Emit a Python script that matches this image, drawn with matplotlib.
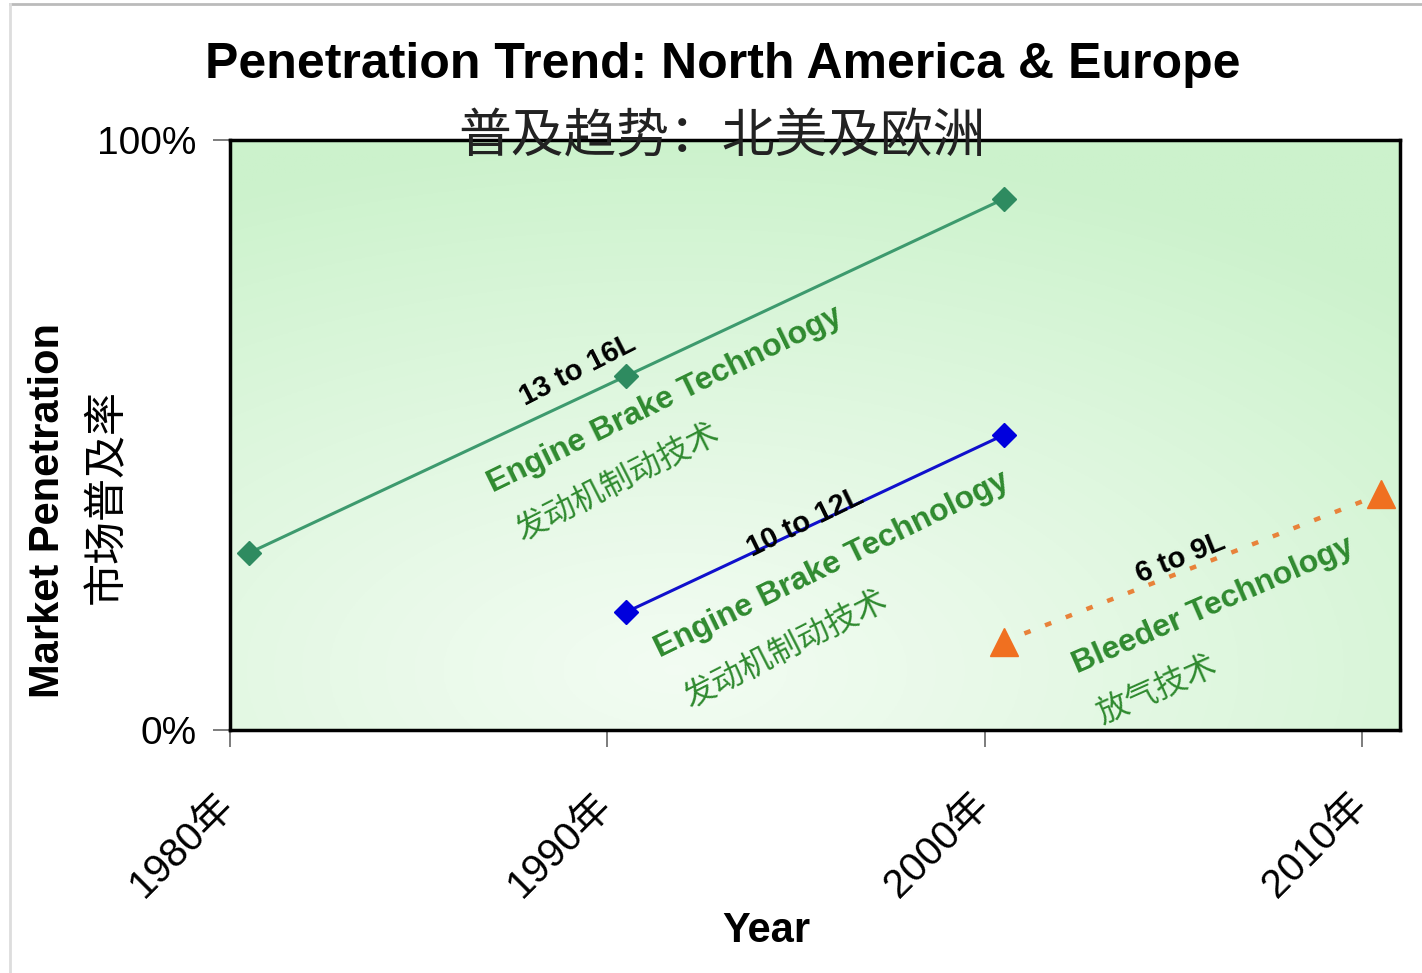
import matplotlib
matplotlib.use("Agg")
import matplotlib.pyplot as plt
import matplotlib.transforms as mtransforms
import numpy as np

# penetration series (year, share in %)
heavy_years = [1980.5, 1990.5, 2000.5]
heavy_share = [30, 60, 90]
medium_years = [1990.5, 2000.5]
medium_share = [20, 50]
light_years = [2000.5, 2010.5]
light_share = [15, 40]

tick_years = [1980, 1990, 2000, 2010]
tick_labels = ["1980年", "1990年", "2000年", "2010年"]

LAT = ["Liberation Sans", "Noto Sans CJK SC"]
CJK = ["Noto Sans CJK SC", "Liberation Sans"]
TXT_GREEN = "#2f8a2f"

fig = plt.figure(figsize=(14.22, 9.73), dpi=100)
ax = fig.add_axes([0.1617, 0.2497, 0.8228, 0.6064])
ax.set_xlim(1980, 2011.0)
ax.set_ylim(0, 100)

# soft green background, whiter towards lower middle
gx, gy = np.meshgrid(np.linspace(0, 1, 400), np.linspace(0, 1, 300))
r = np.sqrt(((gx - 0.38) / 1.0) ** 2 + ((gy - 0.1) / 1.0) ** 2)
t = 0.25 + 0.75 * np.clip(r / 0.9, 0, 1) ** 1.1
white = np.array([1.0, 1.0, 1.0])
green = np.array([0.80, 0.95, 0.80])
img = white * (1 - t[..., None]) + green * t[..., None]
ax.imshow(img, extent=[1980, 2011.0, 0, 100], origin="lower", aspect="auto", zorder=0)

ax.plot(heavy_years, heavy_share, color="#3d9a6e", lw=2.2, marker="D", ms=12,
        mfc="#2e8b60", mec="#2e8b60", zorder=3)
ax.plot(medium_years, medium_share, color="#1010cc", lw=2.2, marker="D", ms=12,
        mfc="#0000dd", mec="#0000dd", zorder=3)
ax.plot(light_years, light_share, color="#e8823a", lw=3.2, ls=(0, (1.5, 3.5)),
        zorder=3)
ax.plot(light_years, light_share, ls="none", marker="^", ms=20,
        mfc="#f07020", mec="#f07020", zorder=4)

# labels along the lines
ax.text(1989.22, 61.0, "13 to 16L", rotation=27, fontsize=21, fontweight="bold",
        family=LAT, ha="center", va="center", zorder=5)
ax.text(1991.53, 55.9, "Engine Brake Technology", rotation=26, fontsize=23,
        fontweight="bold", color=TXT_GREEN, family=LAT, ha="center", va="center", zorder=5)
ax.text(1990.26, 42.0, "发动机制动技术", rotation=27, fontsize=23,
        color=TXT_GREEN, family=CJK, ha="center", va="center", zorder=5)

ax.text(1995.24, 35.3, "10 to 12L", rotation=26, fontsize=21, fontweight="bold",
        family=LAT, ha="center", va="center", zorder=5)
ax.text(1995.96, 28.0, "Engine Brake Technology", rotation=26, fontsize=23,
        fontweight="bold", color=TXT_GREEN, family=LAT, ha="center", va="center", zorder=5)
ax.text(1994.71, 13.6, "发动机制动技术", rotation=27, fontsize=23,
        color=TXT_GREEN, family=CJK, ha="center", va="center", zorder=5)

ax.text(2005.18, 29.2, "6 to 9L", rotation=22, fontsize=21, fontweight="bold",
        family=LAT, ha="center", va="center", zorder=5)
ax.text(2006.05, 21.0, "Bleeder Technology", rotation=23.5, fontsize=23,
        fontweight="bold", color=TXT_GREEN, family=LAT, ha="center", va="center", zorder=5)
ax.text(2004.57, 6.8, "放气技术", rotation=24, fontsize=23,
        color=TXT_GREEN, family=CJK, ha="center", va="center", zorder=5)

# axes styling
for s in ax.spines.values():
    s.set_linewidth(2.5)
    s.set_color("black")
ax.set_yticks([0, 100])
ax.set_yticklabels(["0%", "100%"], family=LAT, fontsize=28)
ax.set_xticks(tick_years)
ax.set_xticklabels(tick_labels, family=LAT, fontsize=29, rotation=45,
                   ha="right", va="top", rotation_mode="anchor")
ax.tick_params(axis="both", direction="out", length=12, width=1.2, color="#666666")
ax.tick_params(axis="y", pad=12)
ax.tick_params(axis="x", pad=28)
shift = mtransforms.ScaledTranslation(-0.15, 0, fig.dpi_scale_trans)
for lbl in ax.get_xticklabels():
    lbl.set_transform(lbl.get_transform() + shift)

fig.text(0.508, 0.933, "Penetration Trend: North America & Europe", family=LAT,
         fontsize=36, fontweight="bold", ha="center", va="center")
fig.text(0.508, 0.859, "普及趋势：北美及欧洲", family=CJK, fontsize=38,
         ha="center", va="center", color="#222222", zorder=10)
fig.text(0.034, 0.475, "Market Penetration", family=LAT, fontsize=30,
         fontweight="bold", rotation=90, ha="center", va="center")
fig.text(0.075, 0.49, "市场普及率", family=CJK, fontsize=31,
         rotation=90, ha="center", va="center")
fig.text(0.539, 0.043, "Year", family=LAT, fontsize=30, fontweight="bold",
         ha="center", va="center")

# thin grey page frame
fig.add_artist(plt.Line2D([0.007, 1.0], [0.996, 0.996], color="#bbbbbb", lw=2,
                          transform=fig.transFigure))
fig.add_artist(plt.Line2D([0.007, 0.007], [0.0, 0.996], color="#dddddd", lw=2,
                          transform=fig.transFigure))

fig.savefig("out.png", dpi=100)
